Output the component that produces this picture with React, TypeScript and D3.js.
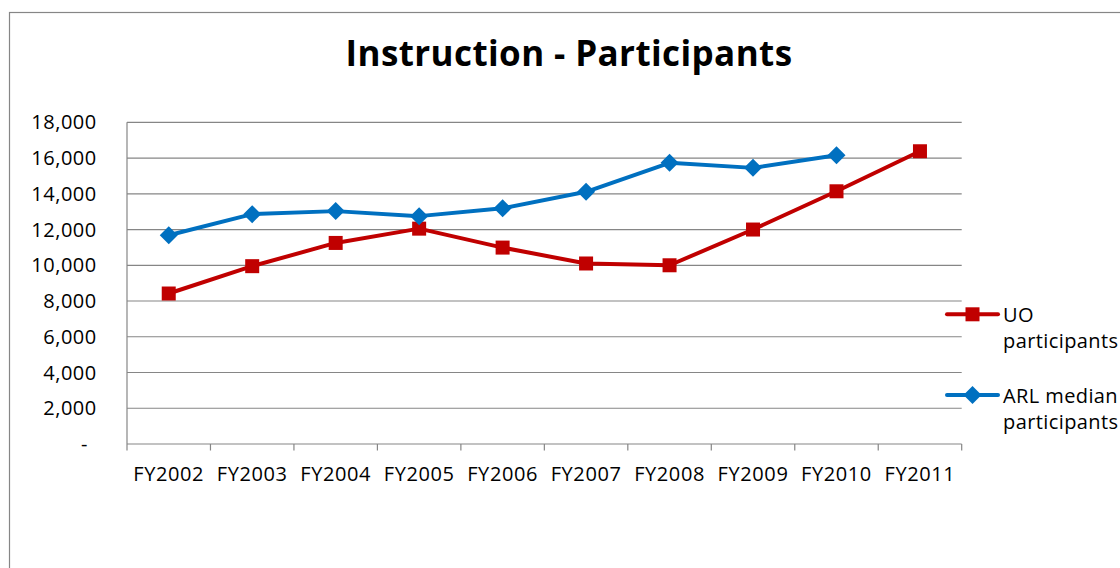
import React from "react";
import * as d3 from "d3";

const categories = ["FY2002", "FY2003", "FY2004", "FY2005", "FY2006", "FY2007", "FY2008", "FY2009", "FY2010", "FY2011"];
const uoParticipants: (number | null)[] = [8420, 9950, 11250, 12050, 10990, 10100, 10000, 12000, 14140, 16380];
const arlMedian: (number | null)[] = [11680, 12860, 13030, 12750, 13190, 14110, 15730, 15450, 16160, null];
const yTicks = [0, 2000, 4000, 6000, 8000, 10000, 12000, 14000, 16000, 18000];
const seriesNames = [["UO", "participants"], ["ARL median", "participants"]];

const W = 1120;
const H = 568;
const plot = { left: 127, right: 961.7, top: 122.3, bottom: 444 };
const RED = "#C00000";
const BLUE = "#0070C0";
const GRID = "#868686";
const FONT = "'Open Sans', 'DejaVu Sans', sans-serif";

export default function App() {
  const x = d3.scaleBand<string>().domain(categories).range([plot.left, plot.right]).padding(0);
  const y = d3.scaleLinear().domain([0, 18000]).range([plot.bottom, plot.top]);
  const cx = (c: string) => (x(c) as number) + x.bandwidth() / 2;
  const fmt = d3.format(",");

  const line = d3
    .line<number | null>()
    .defined((d) => d !== null)
    .x((_, i) => cx(categories[i]))
    .y((d) => y(d as number));

  const square = (px: number, py: number, key: string, color: string) => (
    <rect key={key} x={px - 7} y={py - 7} width={14} height={14} fill={color} />
  );
  const diamond = (px: number, py: number, key: string, color: string) => (
    <path key={key} d={`M${px},${py - 9}L${px + 9},${py}L${px},${py + 9}L${px - 9},${py}Z`} fill={color} />
  );

  const boundaries = [...categories.map((c) => x(c) as number), plot.right];

  const legendY = [314.3, 395];

  return (
    <svg
      width={W}
      height={H}
      style={{ position: "absolute", left: 0, top: 0, background: "#fff" }}
      fontFamily={FONT}
    >
      <rect x={0} y={0} width={W} height={H} fill="#fff" />
      <rect x={9.5} y={12.5} width={1200} height={700} fill="none" stroke={GRID} strokeWidth={1.2} />

      <text x={569} y={66} textAnchor="middle" fontSize={35} fontWeight="bold" fill="#000" letterSpacing={0.4}>
        Instruction - Participants
      </text>

      {/* gridlines */}
      {yTicks.map((t) => (
        <line key={"g" + t} x1={plot.left} x2={plot.right} y1={y(t)} y2={y(t)} stroke={GRID} strokeWidth={1.2} />
      ))}
      {/* y axis line */}
      <line x1={plot.left} x2={plot.left} y1={plot.top} y2={plot.bottom} stroke={GRID} strokeWidth={1.2} />
      {/* x ticks */}
      {boundaries.map((bx, i) => (
        <line key={"t" + i} x1={bx} x2={bx} y1={plot.bottom} y2={plot.bottom + 6.5} stroke={GRID} strokeWidth={1.2} />
      ))}

      {/* y labels */}
      {yTicks.map((t) => (
        <text
          key={"yl" + t}
          x={t === 0 ? 88 : 96.7}
          y={y(t) + 7}
          textAnchor="end"
          fontSize={20}
          fill="#000"
          letterSpacing={0.5}
        >
          {t === 0 ? "-" : fmt(t)}
        </text>
      ))}

      {/* x labels */}
      {categories.map((c) => (
        <text key={"xl" + c} x={cx(c)} y={480.7} textAnchor="middle" fontSize={20} fill="#000" letterSpacing={0.6}>
          {c}
        </text>
      ))}

      {/* series */}
      <path d={line(uoParticipants) || ""} fill="none" stroke={RED} strokeWidth={4} strokeLinejoin="round" strokeLinecap="round" />
      <path d={line(arlMedian) || ""} fill="none" stroke={BLUE} strokeWidth={4} strokeLinejoin="round" strokeLinecap="round" />
      {uoParticipants.map((v, i) => (v === null ? null : square(cx(categories[i]), y(v), "u" + i, RED)))}
      {arlMedian.map((v, i) => (v === null ? null : diamond(cx(categories[i]), y(v), "a" + i, BLUE)))}

      {/* legend */}
      {seriesNames.map((lines, i) => {
        const ly = legendY[i];
        const color = i === 0 ? RED : BLUE;
        return (
          <g key={"lg" + i}>
            <line x1={947} x2={998} y1={ly} y2={ly} stroke={color} strokeWidth={4} strokeLinecap="round" />
            {i === 0 ? square(972.5, ly, "ls" + i, color) : diamond(972.5, ly, "ld" + i, color)}
            {lines.map((t, j) => (
              <text key={j} x={1003} y={ly + 8 + j * 25.5} fontSize={20} fill="#000" letterSpacing={0.4}>
                {t}
              </text>
            ))}
          </g>
        );
      })}
    </svg>
  );
}
